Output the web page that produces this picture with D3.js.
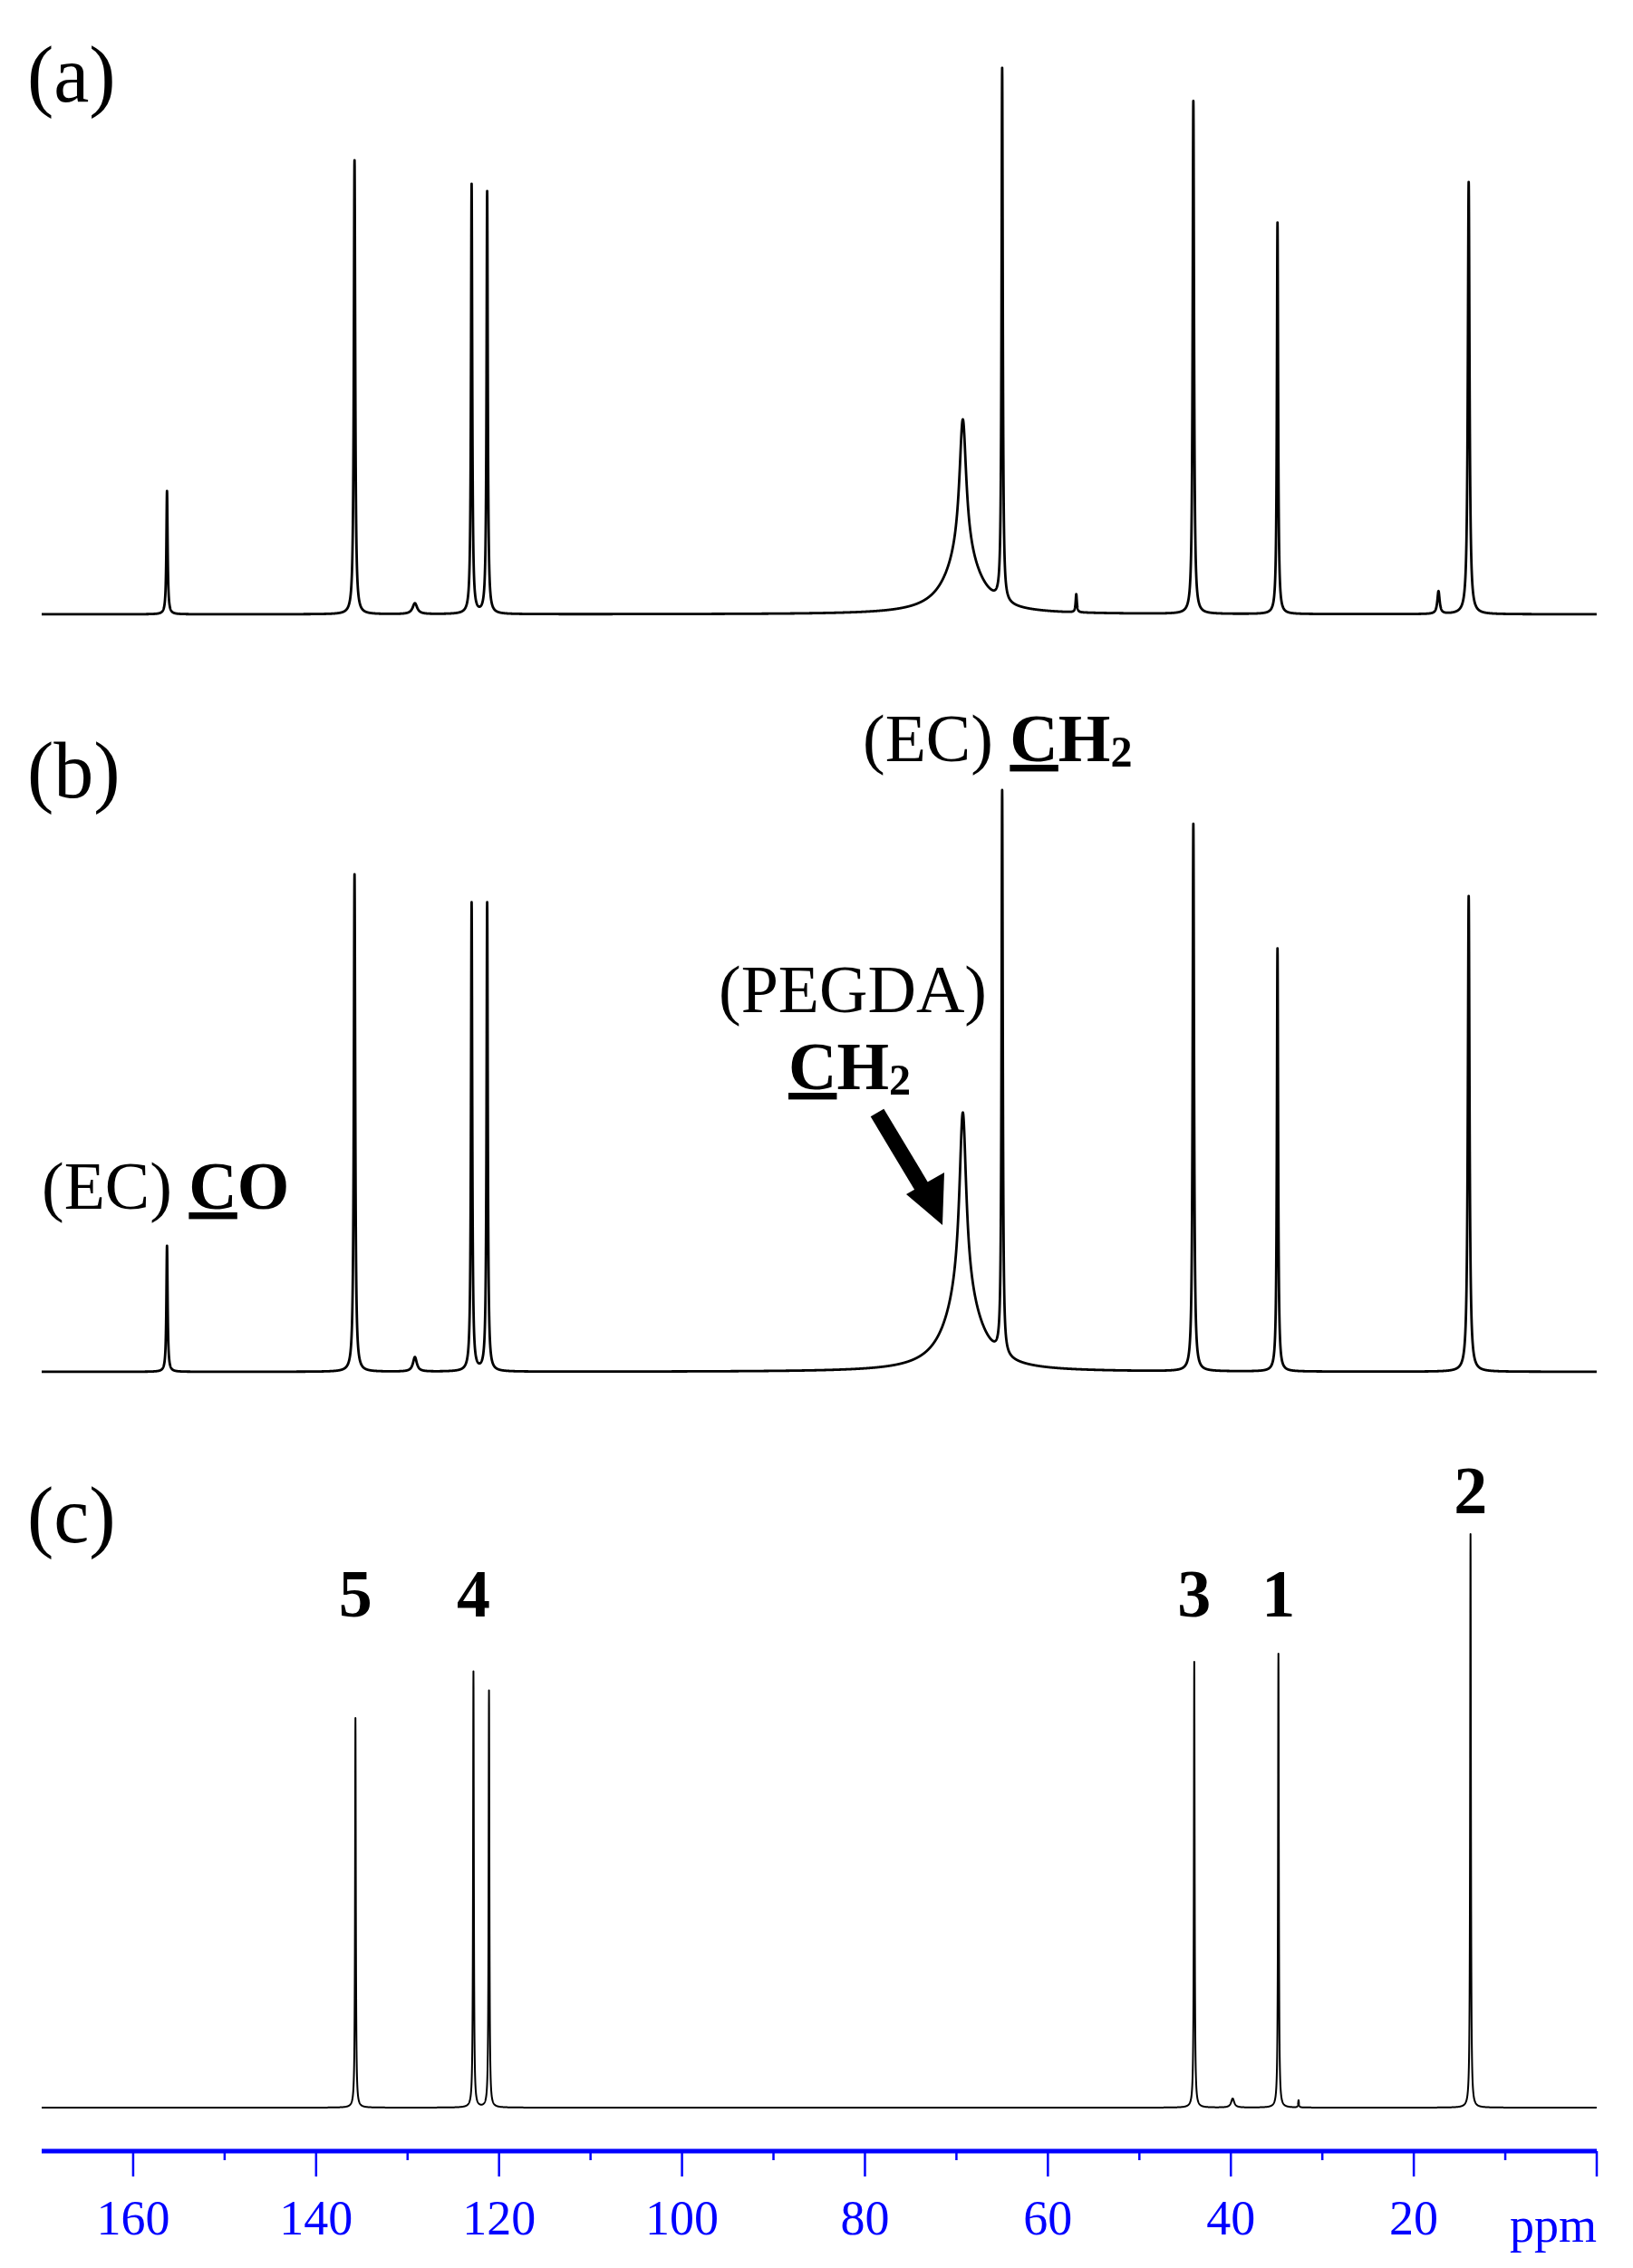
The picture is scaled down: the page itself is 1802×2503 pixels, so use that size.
<!DOCTYPE html>
<html><head><meta charset="utf-8">
<script src="https://cdn.jsdelivr.net/npm/d3@7"></script>
<style>body{margin:0;background:#fff}svg{display:block}text{font-family:"Liberation Serif","Times New Roman",serif}</style>
</head><body>
<script>
// peaks: [ppm, height(px-units of intensity), half-width ppm]
const peaksA = [[156.3,136,0.08],[135.8,501,0.09],[129.2,12,0.3],[123.0,474,0.08],[121.3,466,0.08],
  [69.3,150,0.45],[69.3,65,2.2],[65.0,588,0.08],[56.9,20,0.08],[44.1,566,0.09],[34.9,432,0.08],[17.3,25,0.15],[14.0,477,0.11]];
const peaksB = [[156.3,139,0.08],[135.8,549,0.09],[129.2,16,0.25],[123.0,517,0.08],[121.3,517,0.08],
  [69.3,200,0.45],[69.3,86,2.2],[65.0,622,0.08],[44.1,604,0.09],[34.9,467,0.08],[14.0,525,0.11]];
const peaksC = [[135.7,430,0.05],[122.8,481,0.05],[121.1,460,0.05],[44.0,492,0.05],[39.8,10,0.2],
  [34.8,501,0.05],[32.6,8,0.05],[13.8,633,0.05]];
const majorTicks = [160,140,120,100,80,60,40,20,0];
const minorTicks = [150,130,110,90,70,50,30,10];
const cLabels = [["5",135.7,1784],["4",122.8,1784],["3",44.0,1784],["1",34.8,1784],["2",13.8,1670]];

const W=1802,H=2503;
const svg=d3.select("body").append("svg").attr("width",W).attr("height",H);
const x=d3.scaleLinear().domain([170,0]).range([46,1762]);
const grid=d3.range(170,0,-0.01);
function spectrum(peaks){
  return grid.map(p=>[p,d3.sum(peaks,k=>k[1]*k[2]*k[2]/((p-k[0])*(p-k[0])+k[2]*k[2]))]);
}
const panels=[{peaks:peaksA,base:678,sw:2.8},{peaks:peaksB,base:1514,sw:2.8},{peaks:peaksC,base:2326,sw:2}];
panels.forEach(pn=>{
  const y=d3.scaleLinear().domain([0,1]).range([pn.base,pn.base-1]);
  svg.append("path").datum(spectrum(pn.peaks)).attr("fill","none").attr("stroke","#000")
    .attr("stroke-width",pn.sw).attr("stroke-linejoin","round")
    .attr("d",d3.line().x(d=>x(d[0])).y(d=>y(d[1])));
});
// panel labels
[["(a)",112],["(b)",880],["(c)",1702]].forEach(([t,yy])=>svg.append("text").attr("x",30).attr("y",yy)
  .attr("font-size",88).text(t));
// axis
const ax=svg.append("g").attr("transform","translate(0,2374)");
ax.append("line").attr("x1",46).attr("x2",1762).attr("stroke","#0000ff").attr("stroke-width",5);
ax.selectAll(".mj").data(majorTicks).join("line").attr("x1",d=>x(d)).attr("x2",d=>x(d)).attr("y1",0).attr("y2",28)
  .attr("stroke","#0000ff").attr("stroke-width",2.5);
ax.selectAll(".mn").data(minorTicks).join("line").attr("x1",d=>x(d)).attr("x2",d=>x(d)).attr("y1",0).attr("y2",10)
  .attr("stroke","#0000ff").attr("stroke-width",2.5);
ax.selectAll(".tl").data(majorTicks.filter(d=>d>0)).join("text").attr("x",d=>x(d)).attr("y",92)
  .attr("text-anchor","middle").attr("font-size",54).attr("fill","#0000ff").text(d=>d);
ax.append("text").attr("x",1762).attr("y",100).attr("text-anchor","end").attr("font-size",54).attr("fill","#0000ff").text("ppm");
// c labels
svg.selectAll(".cl").data(cLabels).join("text").attr("x",d=>x(d[1])).attr("y",d=>d[2]).attr("text-anchor","middle")
  .attr("font-size",74).attr("font-weight","bold").text(d=>d[0]);
// annotations
function ann(xx,yy,pre,bold,sub,fs){
  const t=svg.append("text").attr("x",xx).attr("y",yy).attr("font-size",fs);
  if(pre) t.append("tspan").text(pre);
  t.append("tspan").attr("font-weight","bold").attr("text-decoration","underline").text(bold[0]);
  t.append("tspan").attr("font-weight","bold").text(bold.slice(1));
  if(sub) t.append("tspan").attr("font-weight","bold").attr("font-size",fs*0.65).attr("dy",fs*0.08).text(sub);
}
ann(952,840,"(EC) ","CH","2",74);
ann(46,1334,"(EC) ","CO","",74);
svg.append("text").attr("x",941).attr("y",1117).attr("text-anchor","middle").attr("font-size",74).text("(PEGDA)");
ann(870,1202,"","CH","2",74);
// arrow
svg.append("line").attr("x1",968).attr("y1",1228).attr("x2",1022).attr("y2",1318).attr("stroke","#000").attr("stroke-width",17);
svg.append("path").attr("d","M1040,1352 L1000,1318 L1042,1294 Z").attr("fill","#000");
</script>
</body></html>
